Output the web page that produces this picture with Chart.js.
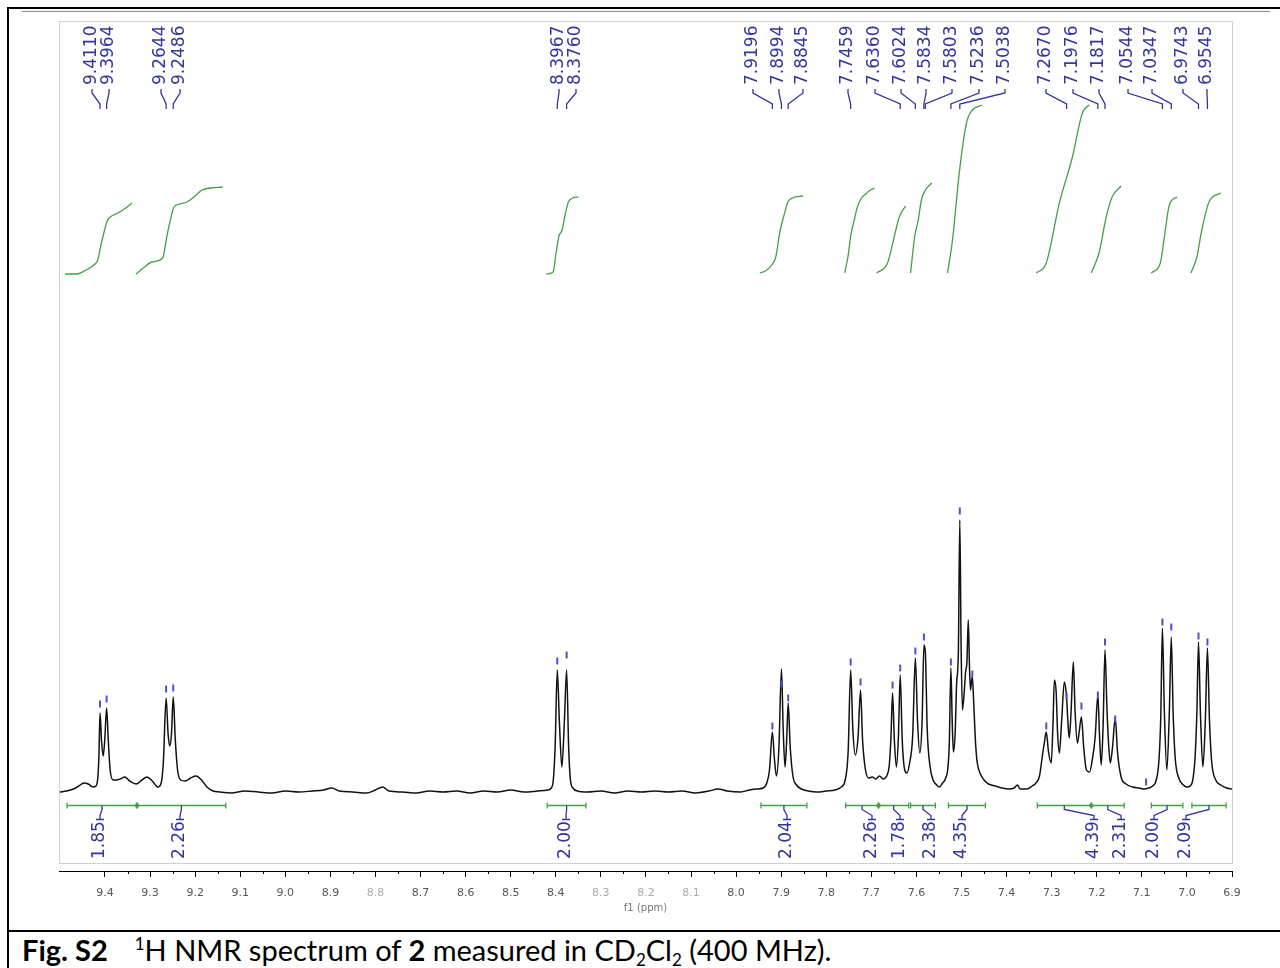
<!DOCTYPE html>
<html>
<head>
<meta charset="utf-8">
<title>Fig. S2 1H NMR</title>
<script src="https://cdn.jsdelivr.net/npm/chart.js@4.4.1/dist/chart.umd.min.js"></script>
<style>
    body { margin: 0; background: #fff; }
    #page { position: relative; width: 1280px; height: 968px; overflow: hidden; background: #fff; }
    .rule { position: absolute; background: #000; }
    #chartWrap { position: absolute; left: 0; top: 0; width: 1280px; height: 930px; }
    #caption {
        position: absolute; left: 22px; top: 933px;
        font-family: Lato, "Open Sans", sans-serif; font-size: 29px; line-height: 34px; color: #000;
        white-space: nowrap;
    }
    #caption sup { font-size: 17px; vertical-align: 11px; line-height: 0; }
    #caption sub { font-size: 17px; vertical-align: -5px; line-height: 0; }
    #caption .gap { display: inline-block; width: 27px; }
</style>
</head>
<body>
<div id="page">
    <div class="rule" style="left:7px; top:7px; width:1273px; height:2px;"></div>
    <div class="rule" style="left:7px; top:7px; width:2px; height:961px;"></div>
    <div class="rule" style="left:22px; top:11px; width:1248px; height:1px; background:#8c8c8c;"></div>
    <div class="rule" style="left:7px; top:930px; width:1273px; height:2px;"></div>
    <div id="chartWrap"><canvas id="nmrChart"></canvas></div>
    <div id="caption"><b>Fig. S2</b><span class="gap"></span><sup>1</sup>H NMR spectrum of <b>2</b> measured in CD<sub>2</sub>Cl<sub>2</sub> (400 MHz).</div>
</div>
<script>
// x axis tick labels (ppm)
const xTicks = [9.4, 9.3, 9.2, 9.1, 9.0, 8.9, 8.8, 8.7, 8.6, 8.5, 8.4, 8.3, 8.2, 8.1, 8.0,
    7.9, 7.8, 7.7, 7.6, 7.5, 7.4, 7.3, 7.2, 7.1, 7.0, 6.9];
const fadedTicks = [8.8, 8.3, 8.2, 8.1];

// spectrum trace: [ppm, intensity]
const spectrum = [
    [9.500, 0], [9.485, 1], [9.470, 3], [9.458, 6], [9.447, 9], [9.437, 8], [9.427, 5], [9.420, 6],
    [9.416, 14], [9.4135, 35], [9.4110, 79], [9.4075, 50], [9.4040, 36], [9.4005, 52], [9.3964, 84],
    [9.3925, 50], [9.3885, 22], [9.382, 12], [9.375, 12], [9.366, 13], [9.356, 15], [9.345, 11],
    [9.331, 8], [9.318, 12], [9.307, 15], [9.295, 11], [9.283, 5], [9.276, 8], [9.2705, 30],
    [9.2644, 94], [9.260, 58], [9.2565, 46], [9.2525, 58], [9.2486, 95], [9.244, 52], [9.239, 22],
    [9.232, 12], [9.222, 11], [9.210, 14], [9.198, 16], [9.186, 12], [9.174, 5], [9.160, 1], [9.145, 0],
    [9.12, -1], [9.09, 1], [9.06, 0], [9.03, -1], [9.00, 1], [8.97, 0], [8.94, 1], [8.915, 2],
    [8.897, 4], [8.88, 1], [8.85, 0], [8.82, -1], [8.80, 2], [8.784, 5], [8.77, 1], [8.74, 0],
    [8.71, -1], [8.68, 1], [8.65, 0], [8.62, 1], [8.59, -1], [8.56, 1], [8.53, 0], [8.50, 2],
    [8.47, 0], [8.44, 1], [8.418, 2],
    [8.410, 4], [8.4055, 12], [8.4015, 45], [8.3967, 122], [8.392, 70], [8.3865, 25], [8.381, 70],
    [8.3760, 122], [8.3715, 45], [8.3675, 12], [8.362, 4], [8.352, 1],
    [8.33, 0], [8.30, 1], [8.27, -1], [8.24, 1], [8.21, 0], [8.18, 1], [8.15, 0], [8.12, 1],
    [8.09, -1], [8.06, 1], [8.04, 3], [8.02, 1], [7.99, 0], [7.97, 2], [7.955, 3],
    [7.940, 4], [7.932, 9], [7.926, 22], [7.9196, 60], [7.915, 33], [7.9105, 16], [7.905, 45],
    [7.8994, 123], [7.8955, 62], [7.8915, 25], [7.888, 50], [7.8845, 89], [7.880, 45], [7.874, 16],
    [7.866, 7], [7.855, 3], [7.84, 1], [7.82, 0], [7.80, 1], [7.78, 2], [7.767, 5],
    [7.758, 12], [7.7515, 40], [7.7459, 122], [7.741, 62], [7.7355, 37], [7.7295, 55], [7.724, 102],
    [7.7195, 52], [7.713, 22], [7.706, 14], [7.698, 15], [7.690, 13], [7.682, 16], [7.674, 13],
    [7.666, 16], [7.660, 28],
    [7.6565, 55], [7.653, 99], [7.649, 52], [7.6445, 25], [7.640, 55], [7.6360, 117], [7.6315, 52],
    [7.626, 22], [7.621, 19], [7.6155, 28], [7.6085, 55], [7.6024, 134], [7.5975, 70], [7.5925, 39],
    [7.5875, 70], [7.5834, 147], [7.5803, 140], [7.576, 62], [7.570, 26], [7.563, 12], [7.555, 7],
    [7.549, 5], [7.542, 9], [7.535, 14], [7.530, 25], [7.527, 50],
    [7.5236, 124], [7.5205, 68], [7.518, 40], [7.514, 60], [7.511, 107], [7.507, 140], [7.5038, 272],
    [7.501, 150], [7.498, 82], [7.494, 100], [7.491, 120], [7.488, 130], [7.485, 172], [7.482, 120],
    [7.480, 102], [7.478, 110], [7.476, 115], [7.473, 90], [7.469, 50], [7.465, 29], [7.458, 18],
    [7.450, 12], [7.440, 8], [7.425, 6], [7.410, 4], [7.395, 3], [7.383, 4], [7.376, 7], [7.370, 3],
    [7.355, 3], [7.343, 6],
    [7.335, 9], [7.327, 16], [7.321, 35], [7.316, 50], [7.312, 60], [7.307, 40], [7.301, 29],
    [7.297, 70], [7.294, 112], [7.290, 100], [7.287, 60], [7.283, 39], [7.278, 70], [7.272, 110],
    [7.2670, 95], [7.264, 70], [7.261, 54], [7.257, 80], [7.252, 130], [7.248, 80], [7.243, 49],
    [7.239, 60], [7.234, 75], [7.229, 45], [7.223, 22], [7.216, 20], [7.210, 32], [7.2035, 55],
    [7.1976, 97], [7.1935, 52], [7.190, 27], [7.186, 65], [7.1817, 142], [7.1775, 85], [7.174, 50],
    [7.170, 29], [7.165, 45], [7.159, 74], [7.154, 40], [7.146, 15], [7.135, 8], [7.120, 5],
    [7.106, 4], [7.095, 3], [7.085, 4],
    [7.076, 6], [7.068, 12], [7.062, 32], [7.058, 75], [7.0544, 164], [7.0500, 80], [7.0445, 22],
    [7.0390, 80], [7.0347, 155], [7.0305, 78], [7.026, 34], [7.018, 14], [7.008, 7], [7.000, 5],
    [6.993, 6],
    [6.987, 12], [6.982, 34], [6.978, 78], [6.9743, 150], [6.9700, 78], [6.9645, 25], [6.9590, 74],
    [6.9545, 144], [6.9500, 72], [6.945, 30], [6.936, 12], [6.925, 7], [6.912, 4], [6.900, 3]
];

// peak-pick marks (small blue dashes above the peaks): [ppm, height]
const peakMarks = [
    [9.4110, 88], [9.3964, 93], [9.2644, 103], [9.2486, 104], [8.3967, 131], [8.3760, 137],
    [7.9196, 66], [7.8994, 108], [7.8845, 94], [7.7459, 130], [7.724, 110], [7.653, 107],
    [7.6360, 124], [7.6024, 141], [7.5834, 155], [7.5236, 130], [7.5038, 281], [7.476, 118],
    [7.312, 66], [7.2670, 96], [7.234, 86], [7.1976, 97], [7.1817, 150], [7.159, 73], [7.0905, 10],
    [7.0544, 170], [7.0347, 165], [6.9743, 156], [6.9545, 150]
];

// labelled peaks (ppm)
const peakLabels = [9.4110, 9.3964, 9.2644, 9.2486, 8.3967, 8.3760, 7.9196, 7.8994, 7.8845,
    7.7459, 7.6360, 7.6024, 7.5834, 7.5803, 7.5236, 7.5038, 7.2670, 7.1976, 7.1817, 7.0544,
    7.0347, 6.9743, 6.9545];

// integration regions [from, to] ppm and their values
const integralRanges = [[9.484, 9.329], [9.329, 9.132], [8.419, 8.333], [7.945, 7.843],
    [7.757, 7.684], [7.684, 7.617], [7.613, 7.558], [7.529, 7.447], [7.332, 7.212],
    [7.212, 7.139], [7.079, 7.009], [6.989, 6.913]];
const integralValues = [1.85, 2.26, 2.00, 2.04, 2.26, 1.78, 2.38, 4.35, 4.39, 2.31, 2.00, 2.09];

// integral curves (green), [ppm, height]
const integralCurves = [
    [[9.489, 518], [9.462, 518], [9.442, 522], [9.422, 528], [9.416, 532], [9.409, 547], [9.402, 560],
     [9.396, 570], [9.391, 574], [9.371, 579], [9.354, 584], [9.340, 589]],
    [[9.331, 518], [9.315, 524], [9.296, 530], [9.272, 534], [9.263, 555], [9.255, 572], [9.247, 585],
     [9.235, 588], [9.218, 590], [9.200, 596], [9.185, 602], [9.165, 604], [9.139, 605]],
    [[8.421, 518], [8.406, 520], [8.399, 540], [8.393, 556], [8.386, 562], [8.379, 578], [8.372, 590],
     [8.362, 594], [8.350, 595]],
    [[7.947, 519], [7.935, 521], [7.921, 527], [7.912, 535], [7.903, 560], [7.893, 578], [7.885, 590],
     [7.875, 594], [7.852, 596]],
    [[7.759, 519], [7.752, 535], [7.745, 558], [7.738, 572], [7.731, 585], [7.722, 594], [7.715, 597],
     [7.705, 601], [7.693, 604]],
    [[7.688, 519], [7.664, 529], [7.651, 552], [7.638, 575], [7.624, 586]],
    [[7.613, 519], [7.604, 555], [7.596, 572], [7.589, 592], [7.580, 602], [7.566, 609]],
    [[7.531, 519], [7.520, 552], [7.505, 619], [7.489, 669], [7.476, 682], [7.454, 687]],
    [[7.334, 519], [7.312, 529], [7.283, 589], [7.254, 635], [7.232, 679], [7.217, 687]],
    [[7.212, 519], [7.195, 539], [7.179, 575], [7.166, 595], [7.146, 606]],
    [[7.079, 519], [7.059, 529], [7.050, 555], [7.039, 587], [7.022, 595]],
    [[6.991, 519], [6.978, 535], [6.967, 562], [6.951, 590], [6.925, 599]]
];

// label placement (canvas px) - layout only
const peakLabelX = [92, 109, 161, 180, 559, 576, 753, 779, 803, 848, 875, 901, 926, 952, 979, 1005,
    1046, 1073, 1099, 1128, 1152, 1183, 1207];
const integralLabelX = [100, 180, 566, 787, 872, 900, 931, 962, 1094, 1121, 1154, 1186];

const NmrChart = {
    blue: '#34349f',
    green: '#45a045',
    labelFont: '17px "DejaVu Sans", Verdana, sans-serif',

    init: function() {
        const ctx = document.getElementById('nmrChart');
        const datasets = [{
            data: spectrum.map(p => ({ x: p[0], y: p[1] })),
            borderColor: '#111',
            borderWidth: 1.5,
            pointRadius: 0,
            cubicInterpolationMode: 'monotone',
            order: 1
        }, {
            data: peakMarks.map(p => ({ x: p[0], y: p[1] })),
            showLine: false,
            pointStyle: 'line',
            rotation: 90,
            pointRadius: 3.5,
            borderWidth: 2,
            borderColor: '#5050cc',
            order: 0
        }];
        integralCurves.forEach(curve => {
            datasets.push({
                data: curve.map(p => ({ x: p[0], y: p[1] })),
                borderColor: NmrChart.green,
                borderWidth: 1.3,
                pointRadius: 0,
                cubicInterpolationMode: 'monotone',
                order: 2
            });
        });

        new Chart(ctx, {
            type: 'line',
            data: { datasets: datasets },
            options: {
                responsive: true,
                maintainAspectRatio: false,
                animation: false,
                layout: { padding: { left: 59, top: 21, right: 48, bottom: 9 } },
                plugins: { legend: { display: false }, tooltip: { enabled: false } },
                scales: {
                    x: {
                        type: 'linear',
                        reverse: true,
                        min: 6.9,
                        max: 9.502,
                        afterBuildTicks: function(scale) {
                            scale.ticks = xTicks.map(v => ({ value: v }));
                        },
                        afterFit: function(scale) {
                            scale.height = 50;
                        },
                        grid: { drawOnChartArea: false, drawTicks: true, tickLength: 6, color: '#000' },
                        border: { display: true, color: '#000', width: 1 },
                        ticks: {
                            autoSkip: false,
                            maxRotation: 0,
                            padding: 10,
                            font: { family: '"DejaVu Sans", Verdana, sans-serif', size: 11 },
                            color: function(c) {
                                return fadedTicks.includes(c.tick.value) ? '#ababab' : '#555';
                            },
                            callback: function(value) { return value.toFixed(1); }
                        },
                        title: {
                            display: true,
                            text: 'f1 (ppm)',
                            color: '#777',
                            font: { family: '"DejaVu Sans", Verdana, sans-serif', size: 10 },
                            padding: { top: 0, bottom: 7 }
                        }
                    },
                    y: { display: false, min: -79, max: 771 }
                }
            },
            plugins: [NmrChart.annotations]
        });
    },

    annotations: {
        id: 'nmrAnnotations',
        beforeDatasetsDraw: function(chart) {
            const c = chart.ctx;
            const a = chart.chartArea;
            c.save();
            c.strokeStyle = '#d0d0d0';
            c.lineWidth = 1;
            c.strokeRect(a.left + 0.5, a.top + 0.5, a.right - a.left, 863 - a.top);
            c.restore();
        },
        afterDatasetsDraw: function(chart) {
            NmrChart.drawMinorTicks(chart);
            NmrChart.drawIntegrals(chart);
            NmrChart.drawPeakLabels(chart);
        }
    },

    // 0.05 ppm minor ticks
    drawMinorTicks: function(chart) {
        const c = chart.ctx;
        const xs = chart.scales.x;
        const y0 = chart.chartArea.bottom;
        c.save();
        c.strokeStyle = '#000';
        c.lineWidth = 1;
        for (let i = 0; i < xTicks.length - 1; i++) {
            const px = Math.round(xs.getPixelForValue(xTicks[i] - 0.05)) + 0.5;
            c.beginPath();
            c.moveTo(px, y0);
            c.lineTo(px, y0 + 3);
            c.stroke();
        }
        c.restore();
    },

    vText: function(c, text, x, y) {
        c.save();
        c.translate(x, y);
        c.rotate(-Math.PI / 2);
        c.textAlign = 'left';
        c.textBaseline = 'middle';
        c.fillText(text, 0, 0);
        c.restore();
    },

    drawIntegrals: function(chart) {
        const c = chart.ctx;
        const xs = chart.scales.x;
        const barY = Math.round(chart.scales.y.getPixelForValue(-13)) + 0.5;
        c.save();
        c.lineWidth = 1.3;
        integralRanges.forEach((r, i) => {
            const x1 = xs.getPixelForValue(r[0]);
            const x2 = xs.getPixelForValue(r[1]);
            c.strokeStyle = NmrChart.green;
            c.beginPath();
            c.moveTo(x1, barY); c.lineTo(x2, barY);
            c.moveTo(x1, barY - 3); c.lineTo(x1, barY + 3);
            c.moveTo(x2, barY - 3); c.lineTo(x2, barY + 3);
            c.stroke();
            // shared boundary dot
            if (i > 0 && integralRanges[i - 1][1] === r[0]) {
                c.fillStyle = NmrChart.green;
                c.beginPath();
                c.arc(x1, barY, 2.2, 0, Math.PI * 2);
                c.fill();
            }
            // connector + value
            const cx = (x1 + x2) / 2;
            const lx = integralLabelX[i];
            c.strokeStyle = NmrChart.blue;
            c.beginPath();
            c.moveTo(cx, barY);
            c.lineTo(cx, barY + 4);
            c.lineTo(lx, barY + 10);
            c.lineTo(lx, barY + 14);
            c.moveTo(lx - 4, barY + 14);
            c.lineTo(lx + 4, barY + 14);
            c.stroke();
            c.fillStyle = NmrChart.blue;
            c.font = NmrChart.labelFont;
            NmrChart.vText(c, integralValues[i].toFixed(2), lx, 859);
        });
        c.restore();
    },

    drawPeakLabels: function(chart) {
        const c = chart.ctx;
        const xs = chart.scales.x;
        c.save();
        c.strokeStyle = NmrChart.blue;
        c.fillStyle = NmrChart.blue;
        c.lineWidth = 1.3;
        c.font = NmrChart.labelFont;
        peakLabels.forEach((ppm, i) => {
            const lx = peakLabelX[i];
            const px = xs.getPixelForValue(ppm);
            NmrChart.vText(c, ppm.toFixed(4), lx, 85);
            c.beginPath();
            c.moveTo(lx, 89);
            c.lineTo(lx, 93);
            c.lineTo(px, 104);
            c.lineTo(px, 109);
            c.stroke();
        });
        c.restore();
    }
};

NmrChart.init();
</script>
</body>
</html>
